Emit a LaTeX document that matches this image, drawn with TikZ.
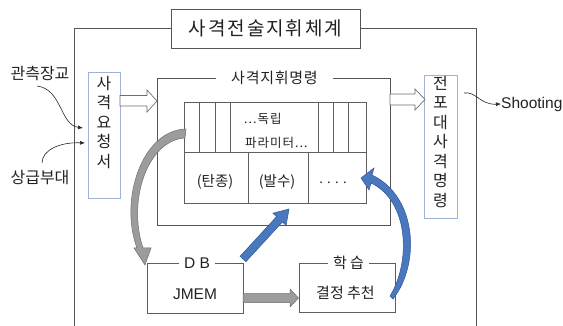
\documentclass[tikz,border=0pt]{standalone}
\usepackage{fontspec}
\setmainfont{Liberation Sans}
\newfontfamily\kr{Noto Sans CJK KR}
\usetikzlibrary{arrows.meta,calc}
\definecolor{frame}{HTML}{555555}
\definecolor{boxln}{HTML}{5E5E5E}
\definecolor{bluebd}{HTML}{9DB5D2}
\definecolor{bluefill}{HTML}{4A78BE}
\definecolor{blueline}{HTML}{2F5597}
\definecolor{grayfill}{HTML}{9C9C9C}
\definecolor{grayline}{HTML}{6E6E6E}
\definecolor{txt}{HTML}{222222}
\begin{document}
\begin{tikzpicture}[x=1pt,y=-1pt,
  every node/.style={inner sep=0pt, text=txt},
  frameln/.style={draw=frame, line width=0.8pt},
  cellln/.style={draw=boxln, line width=0.75pt},
  bluebox/.style={draw=bluebd, line width=0.8pt, fill=white},
  hollow/.style={draw=grayline, line width=0.7pt, fill=white},
  bluearr/.style={fill=bluefill, draw=blueline, line width=0.5pt},
  grayarr/.style={fill=grayfill, draw=grayline, line width=0.5pt},
  pointer/.style={draw=black!85, line width=0.6pt, -{Latex[length=5pt,width=4pt]}},
  kfont/.style={font=\kr\fontsize{#1}{#1}\selectfont},
  kvert/.style={font=\kr\fontsize{16}{19.5}\selectfont, align=center, anchor=north},
  lfont/.style={font=\fontsize{#1}{#1}\selectfont},
]
\useasboundingbox (0,0) rectangle (563,326);

% outer frame
\node[frameln, fill=white, minimum width=189, minimum height=39, kfont=19] (title) at (265.5,28.5) {\addfontfeature{LetterSpace=10}사격전술지휘체계};
\coordinate (ol) at (74,28.5);
\coordinate (or) at (476,28.5);
\draw[frameln] (title.west) -- (ol) -- (74,330);
\draw[frameln] (title.east) -- (or) -- (476,330);

% 사격지휘명령 box
\node[frameln, anchor=north west, minimum width=233, minimum height=147] (cmd) at (157,78) {};
\node[fill=white, inner xsep=15pt, inner ysep=2pt, kfont=15] (cmdl) at (274.5,78) {\addfontfeature{LetterSpace=5}사격지휘명령};

% table
\node[cellln, anchor=north west, minimum width=182, minimum height=101] (tbl) at (184,102) {};
\draw[cellln] (184,152) -- (366,152);
\foreach \x in {199,215,230,318,333,348} \draw[cellln] (\x,102) -- (\x,152);
\foreach \x in {248,308} \draw[cellln] (\x,152) -- (\x,203);
\node[kfont=12.5, anchor=west] (p1) at (244,119) {\addfontfeature{LetterSpace=8}...독립};
\node[kfont=12.5, anchor=west] (p2) at (245,143) {\addfontfeature{LetterSpace=8}파라미터...};
\node[kfont=14.5] (c1) at (215,182) {(탄종)};
\node[kfont=14.5] (c2) at (277,182) {(발수)};
\node[kfont=13] (c3) at (333,183) {.\,\,.\,\,.\,\,.};

% side boxes
\node[bluebox, anchor=north west, minimum width=32, minimum height=126] (req) at (88,72) {};
\node[kvert] (reqt) at (104,76) {사\\격\\요\\청\\서};
\node[bluebox, anchor=north west, minimum width=33, minimum height=143] (bat) at (424,75) {};
\node[kvert] (batt) at (440.5,76) {전\\포\\대\\사\\격\\명\\령};

% hollow arrows
\draw[hollow] (120,95.5) -- (147,95.5) -- (147,90) -- (157,101) -- (147,112) -- (147,106) -- (120,106) -- cycle;
\draw[hollow] (390,94) -- (415,94) -- (415,89) -- (425,99.5) -- (415,110) -- (415,105) -- (390,105) -- cycle;

% DB box
\node[cellln, anchor=north west, minimum width=96, minimum height=50] (db) at (147,263) {};
\node[fill=white, inner xsep=5pt, lfont=15.5] (dbl) at (197,263) {D B};
\node[lfont=15.5] (jmem) at (195,294) {JMEM};

% learning box
\node[cellln, anchor=north west, minimum width=96, minimum height=49] (learn) at (299,263) {};
\node[fill=white, inner xsep=5pt, kfont=15] (learnl) at (348.5,263) {학 습};
\node[kfont=15] (rec) at (345.5,293) {결정 추천};

% left labels
\node[kfont=16] (obs) at (40,73) {관측장교};
\node[kfont=16] (sup) at (40,178) {상급부대};
\coordinate (obsS) at (37,86);
\coordinate (obsE) at (83,128);
\coordinate (supS) at (42,163);
\coordinate (supE) at (85,143);
\draw[pointer] (obsS) .. controls (62,89) and (60,125) .. (obsE);
\draw[pointer] (supS) .. controls (42,150) and (60,142) .. (supE);

% Shooting
\node[lfont=15.5, anchor=west] (shoot) at (501,104) {Shooting};
\coordinate (shS) at (464,93);
\draw[pointer] (shS) .. controls (476,91) and (480,105) .. (shoot.west);

% gray arrow DB -> learn
\draw[grayarr] (243,293.5) -- (290,293.5) -- (290,289) -- (298.5,298) -- (290,307) -- (290,302.5) -- (243,302.5) -- cycle;

% blue straight arrow DB -> table
\draw[bluearr] (240.1,256.3) -- (276.6,216.6) -- (272.9,213.2) -- (289,209) -- (286.1,225.4) -- (282.4,222.0) -- (245.9,261.7) -- cycle;

% gray curved arrow table -> DB
\draw[grayarr] (186,129) .. controls (142,130) and (119,200) .. (137,248) -- (134,248) -- (145,265) -- (151,248) -- (143,248) .. controls (127,200) and (148,140) .. (185,138) -- cycle;

% blue curved arrow learn -> table
\draw[bluearr] (393,299) .. controls (420,265) and (418,197) .. (372,175) -- (374,168) -- (361,178) -- (369,190) -- (371,183) .. controls (409,201) and (411,262) .. (390,296) -- cycle;
\end{tikzpicture}
\end{document}
